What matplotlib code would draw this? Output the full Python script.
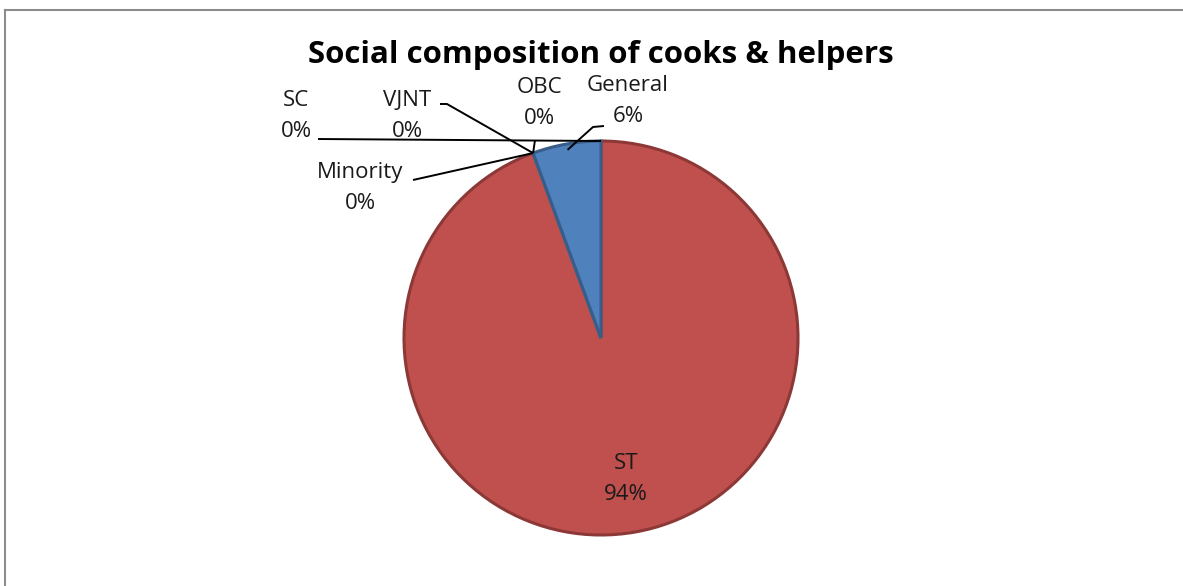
import numpy as np
import matplotlib
matplotlib.use("Agg")
import matplotlib.pyplot as plt
from matplotlib.lines import Line2D

# order follows the reference (clockwise from 12 o'clock)
categories = ["SC", "ST", "VJNT", "OBC", "Minority", "General"]
values = [0, 94.4, 0, 0, 0, 5.6]
colors = ["#4F81BD", "#C0504D", "#9BBB59", "#8064A2", "#4BACC6", "#4F81BD"]
edges = ["#385D8A", "#8C3836", "#71893F", "#5C4776", "#357D91", "#385D8A"]

W, H = 1183, 586
CX, CY, R = 601, 338, 197

plt.rcParams['font.family'] = ['Open Sans', 'DejaVu Sans']

fig = plt.figure(figsize=(W / 100, H / 100), dpi=100)
ax = fig.add_axes([0, 0, 1, 1])


def px(x, y):
    # pixel position of the reference -> data units
    return (x - CX) / R, (CY - y) / R


wedges, _ = ax.pie(values, colors=colors, startangle=90, counterclock=False,
                   radius=1, center=(0, 0), frame=True,
                   wedgeprops=dict(linewidth=2.2))
for w, ec in zip(wedges, edges):
    w.set_edgecolor(ec)
ax.set_xlim(-CX / R, (W - CX) / R)
ax.set_ylim(-(H - CY) / R, CY / R)
ax.set_aspect('equal')
ax.axis('off')

# angle of each slice's midpoint (clockwise from 12 o'clock)
total = sum(values)
cum = np.cumsum([0] + values)
mid = {c: 90 - 360 * (cum[i] + values[i] / 2) / total for i, c in enumerate(categories)}


def edge_point(cat, r=1.0):
    a = np.deg2rad(mid[cat])
    return r * np.cos(a), r * np.sin(a)


pct = {c: f"{int(100 * v / total + 0.5)}%" for c, v in zip(categories, values)}

fs = 16
TC = '#1a1a1a'


def two_line(x, y, top, bottom):
    # name on the first line, percentage ~30 px below
    ax.text(*px(x, y), top, ha='center', va='center', fontsize=fs, color=TC)
    ax.text(*px(x, y + 31), bottom, ha='center', va='center', fontsize=fs, color=TC)


# outside labels: first-line centre, leader start (pixels), optional elbow, end radius
labels = {
    "SC": ((296, 100), (318, 139), None, 1.0),
    "VJNT": ((407, 100), (440, 104), (447, 104), 1.0),
    "OBC": ((539, 87), (535, 140), None, 1.0),
    "General": ((628, 85), (604, 126), (593, 127), 0.97),
    "Minority": ((360, 172), (413, 180), None, 1.0),
}
for cat, (tpos, lstart, elbow, rr) in labels.items():
    two_line(tpos[0], tpos[1], cat, pct[cat])
    pts = [px(*lstart)]
    if elbow is not None:
        pts.append(px(*elbow))
    pts.append(edge_point(cat, rr))
    xs, ys = zip(*pts)
    ax.plot(xs, ys, color='black', lw=1.4, solid_capstyle='butt')

# inside label
two_line(626, 463, "ST", pct["ST"])

ax.text(*px(601, 55), "Social composition of cooks & helpers", ha='center',
        va='center', fontsize=22.5, fontweight='bold', color='black')

# chart frame (top and left edges visible)
fig.add_artist(Line2D([4.5 / W, 4.5 / W], [0, 1 - 10 / H], transform=fig.transFigure,
                      color='#8C8C8C', lw=1.5))
fig.add_artist(Line2D([4.5 / W, 1], [1 - 10 / H, 1 - 10 / H], transform=fig.transFigure,
                      color='#8C8C8C', lw=1.5))

fig.savefig("out.png", dpi=100, facecolor='white')
